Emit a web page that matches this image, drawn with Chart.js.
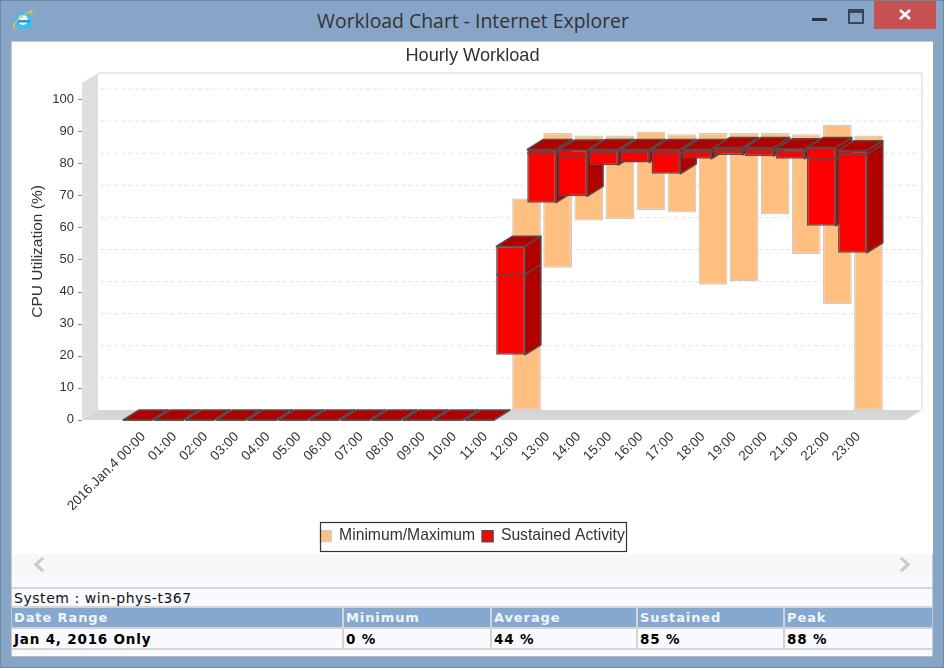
<!DOCTYPE html>
<html><head><meta charset="utf-8">
<script src="https://cdn.jsdelivr.net/npm/chart.js@4"></script>
<style>
html,body{margin:0;padding:0;background:#fff;width:946px;height:671px;overflow:hidden}
#win{position:absolute;left:0;top:0;width:944px;height:668px;background:#87a5c6;box-sizing:border-box;border:1px solid #7089a8;border-top:1px solid #6f87a6}
#ttl{position:absolute;left:0;top:0;width:946px;height:42px;text-align:center;font:19.4px/42px "Open Sans",sans-serif;color:#333}
#panel{position:absolute;left:11px;top:41px;width:922px;height:616px;background:#f8fafe;box-sizing:border-box;border:1px solid #c9c9c9;border-bottom-color:#bbb}
#plot{position:absolute;left:12px;top:42px;width:921px;height:512px;background:#fff}
canvas{position:absolute;left:12px;top:42px}
#nav{position:absolute;left:12px;top:554px;width:920px;height:21px;background:#f7f7f7}
.chev{position:absolute;top:557px}
#close{position:absolute;left:874px;top:1px;width:62px;height:28px;background:#c75050}
table{position:absolute;left:12px;top:587px;width:920px;border-collapse:separate;border-spacing:0;table-layout:fixed;font-family:"DejaVu Sans",sans-serif}
td{padding:0 0 0 2px;height:19px;box-sizing:border-box;overflow:hidden;white-space:nowrap;border-right:2px solid #d4d4d4;border-bottom:2px solid #d4d4d4}
td:last-child{border-right:0}
#sys td{font-size:14px;letter-spacing:.55px;color:#111;background:#f8fafe;border-top:2px solid #d4d4d4;height:21px;border-right:0}
#head td{font-size:13px;font-weight:bold;color:#f2f6fb;background:#85a8d0;letter-spacing:.9px;height:21px}
#row td{font-size:13.5px;font-weight:bold;color:#000;background:#f8fafe;height:21px;letter-spacing:.8px}
</style></head>
<body>
<div id="win"></div>
<div id="ttl">Workload Chart - Internet Explorer</div>
<svg style="position:absolute;left:11px;top:8px" width="24" height="24" viewBox="0 0 24 24">
<circle cx="12" cy="13" r="9" fill="#45bdec"/><circle cx="12" cy="12" r="5" fill="#eaf8fe"/>
<rect x="6" y="12" width="13" height="2.6" fill="#2a9ad8"/><path d="M13 17h8l-1 3h-8z" fill="#45bdec"/>
<path d="M2 20C0 15 13 5 21 2c2-.5 0 4-2 6 1-3 1-4-1-3C12 7 3 15 3.500 20c.5 1 2 .8 3.500 0C5 22 3 22 2 20z" fill="#e7bd45"/>
</svg>
<div style="position:absolute;left:812px;top:18px;width:15px;height:3px;background:#333"></div>
<div style="position:absolute;left:848px;top:9px;width:12px;height:9px;border:2px solid #39465a;border-top-width:4px"></div>
<div id="close"><svg width="62" height="28"><path d="M26 9l10 9M36 9l-10 9" stroke="#fff" stroke-width="2.6"/></svg></div>
<div id="panel"></div>
<div id="plot"></div>
<div id="nav"></div>
<svg class="chev" style="left:32px" width="14" height="15"><path d="M11 1L4 7.500L11 14" fill="none" stroke="#c9c9c9" stroke-width="3"/></svg>
<svg class="chev" style="left:898px" width="14" height="15"><path d="M3 1L10 7.500L3 14" fill="none" stroke="#c9c9c9" stroke-width="3"/></svg>
<canvas id="c" width="921" height="512"></canvas>
<table>
<colgroup><col style="width:332px"><col style="width:148px"><col style="width:146px"><col style="width:147px"><col style="width:147px"></colgroup>
<tr id="sys"><td colspan="5">System : win-phys-t367</td></tr>
<tr id="head"><td>Date Range</td><td>Minimum</td><td>Average</td><td>Sustained</td><td>Peak</td></tr>
<tr id="row"><td>Jan 4, 2016 Only</td><td>0 %</td><td>44 %</td><td>85 %</td><td>88 %</td></tr>
</table>
<script>
const categories = ["2016.Jan.4 00:00","01:00","02:00","03:00","04:00","05:00","06:00","07:00","08:00","09:00","10:00","11:00","12:00","13:00","14:00","15:00","16:00","17:00","18:00","19:00","20:00","21:00","22:00","23:00"];
const minimumValues = [0,0,0,0,0,0,0,0,0,0,0,0,0,44.3,59,59.5,62.3,61.5,39,40.1,60.9,48.6,33,0];
const maximumValues = [0,0,0,0,0,0,0,0,0,0,0,0,65.9,86.3,85.5,85.5,86.8,85.9,86.3,86.3,86.3,85.9,88.9,85.5];
const sustainedLow  = [0,0,0,0,0,0,0,0,0,0,0,0,20.3,67.7,69.7,79.4,80.2,76.7,81.4,82.6,82.2,81.4,60.5,52.1];
const sustainedHigh = [0,0,0,0,0,0,0,0,0,0,0,0,54.1,84.3,84.1,84.3,84.3,84.3,84.3,84.9,84.9,84.5,84.9,83.9];
const sustainedMid  = [0,0,0,0,0,0,0,0,0,0,0,0,45.3,83.2,82.2,83.4,83.4,82.8,83.4,83.9,83.6,83.6,81.2,82.8];
const yTicks = [0,10,20,30,40,50,60,70,80,90,100];

const DX = 16, DY = -10, WALL_LEFT = 82 - 12, WALL_RIGHT = 906 - 12;

const threeD = {
  id: 'threeD',
  beforeDatasetsDraw(chart) {
    const {ctx, chartArea: a, scales: {y}} = chart;
    const L = WALL_LEFT, R = WALL_RIGHT, T = a.top, B = a.bottom;
    ctx.save();
    ctx.fillStyle = '#dedede';
    ctx.beginPath(); ctx.moveTo(L, T); ctx.lineTo(L + DX, T + DY); ctx.lineTo(L + DX, B + DY); ctx.lineTo(L, B); ctx.closePath(); ctx.fill();
    ctx.fillStyle = '#d6d6d6';
    ctx.beginPath(); ctx.moveTo(L, B); ctx.lineTo(L + DX, B + DY); ctx.lineTo(R + DX, B + DY); ctx.lineTo(R, B); ctx.closePath(); ctx.fill();
    ctx.strokeStyle = '#e2e2e2'; ctx.lineWidth = 1.500;
    ctx.beginPath(); ctx.moveTo(L + DX, T + DY); ctx.lineTo(R + DX, T + DY); ctx.lineTo(R + DX, B + DY); ctx.stroke();
    y.ticks.forEach(t => {
      const p = y.getPixelForValue(t.value);
      ctx.strokeStyle = '#888'; ctx.lineWidth = 1; ctx.setLineDash([]);
      ctx.beginPath(); ctx.moveTo(L - 4, Math.round(p) + .5); ctx.lineTo(L, Math.round(p) + .5); ctx.stroke();
      if (t.value === 0) return;
      ctx.strokeStyle = '#e4e4e4'; ctx.lineWidth = 1; ctx.setLineDash([4, 3]);
      ctx.beginPath(); ctx.moveTo(L, p); ctx.lineTo(L + DX, p + DY); ctx.lineTo(R + DX, p + DY); ctx.stroke();
    });
    ctx.restore();
  },
  beforeDatasetDraw(chart, args) {
    const {ctx, scales: {y}} = chart;
    if (args.index === 0) {
      ctx.save(); ctx.translate(DX, DY);
      return;
    }
    args.meta.data.forEach((el, i) => {
      const w = el.width / 2, l = el.x - w, r = el.x + w, top = el.y, bot = el.base;
      ctx.save();
      ctx.lineWidth = 1.5; ctx.strokeStyle = '#5a4a4a'; ctx.lineJoin = 'round';
      ctx.fillStyle = '#b00000';
      ctx.beginPath(); ctx.moveTo(l, top); ctx.lineTo(l + DX, top + DY); ctx.lineTo(r + DX, top + DY); ctx.lineTo(r, top); ctx.closePath(); ctx.fill(); ctx.stroke();
      ctx.beginPath(); ctx.moveTo(r, top); ctx.lineTo(r + DX, top + DY); ctx.lineTo(r + DX, bot + DY); ctx.lineTo(r, bot); ctx.closePath(); ctx.fill(); ctx.stroke();
      ctx.restore();
      el.draw(ctx);
      const m = y.getPixelForValue(sustainedMid[i]);
      ctx.save();
      ctx.lineWidth = 1.5; ctx.strokeStyle = '#5a4a4a';
      ctx.beginPath(); ctx.moveTo(l, m); ctx.lineTo(r, m); ctx.lineTo(r + DX, m + DY); ctx.stroke();
      ctx.restore();
    });
    return false;
  },
  afterDatasetDraw(chart, args) {
    if (args.index === 0) chart.ctx.restore();
  },
  afterDraw(chart) {
    const {ctx, legend} = chart;
    const hb = legend.legendHitBoxes;
    const left = hb[0].left, right = hb[hb.length - 1].left + hb[hb.length - 1].width + 2;
    ctx.save();
    ctx.strokeStyle = '#333'; ctx.lineWidth = 1.2;
    ctx.strokeRect(Math.round(left) + .5, Math.round(legend.top) + 1.5, Math.round(right - left), 29);
    ctx.restore();
  }
};

new Chart(document.getElementById('c'), {
  type: 'bar',
  plugins: [threeD],
  data: {
    labels: categories,
    datasets: [
      {label: 'Minimum/Maximum', data: categories.map((c, i) => [minimumValues[i], maximumValues[i]]),
       backgroundColor: '#ffbf80', borderColor: '#cccccc', borderWidth: 1.2, borderSkipped: false, clip: false, order: 2},
      {label: 'Sustained Activity', data: categories.map((c, i) => [sustainedLow[i], sustainedHigh[i]]),
       backgroundColor: '#ff0000', borderColor: '#5a4a4a', borderWidth: 1.5, borderSkipped: false, clip: false, order: 1}
    ]
  },
  options: {
    responsive: false,
    animation: false,
    layout: {padding: 0},
    datasets: {bar: {grouped: false, categoryPercentage: 1, barPercentage: 0.925}},
    plugins: {
      tooltip: {enabled: false},
      title: {display: true, text: 'Hourly Workload', color: '#333',
        font: {family: 'Liberation Sans', size: 18.2, weight: 'normal', lineHeight: 1.2},
        padding: {top: 3, bottom: 16.2}},
      legend: {position: 'bottom', labels: {boxWidth: 11, boxHeight: 11, padding: 7, color: '#333',
        sort: (a, b) => a.datasetIndex - b.datasetIndex,
        font: {family: 'Liberation Sans', size: 15.7, lineHeight: 1.15}}}
    },
    scales: {
      x: {type: 'category', offset: true, grid: {display: false}, border: {display: false},
        afterFit(s) { s.height = 101.4; },
        ticks: {autoSkip: false, minRotation: 45, maxRotation: 45, padding: 1, labelOffset: 6, color: '#333',
          font: {family: 'Liberation Sans', size: 13.5}}},
      y: {min: 0, max: 105, grid: {display: false, tickLength: 48}, border: {display: false},
        afterFit(s) { s.width = 110; },
        afterBuildTicks(s) { s.ticks = yTicks.map(v => ({value: v})); },
        title: {display: true, text: 'CPU Utilization (%)', color: '#333',
          font: {family: 'Liberation Sans', size: 15.5, lineHeight: 1.2}, padding: {top: 16, bottom: 0}},
        ticks: {padding: 0, color: '#333', font: {family: 'Liberation Sans', size: 13}}},
      rightMargin: {position: 'right', grid: {display: false, drawTicks: false}, border: {display: false},
        ticks: {display: false}, afterFit(s) { s.width = 65; }}
    }
  }
});
</script>
</body></html>
